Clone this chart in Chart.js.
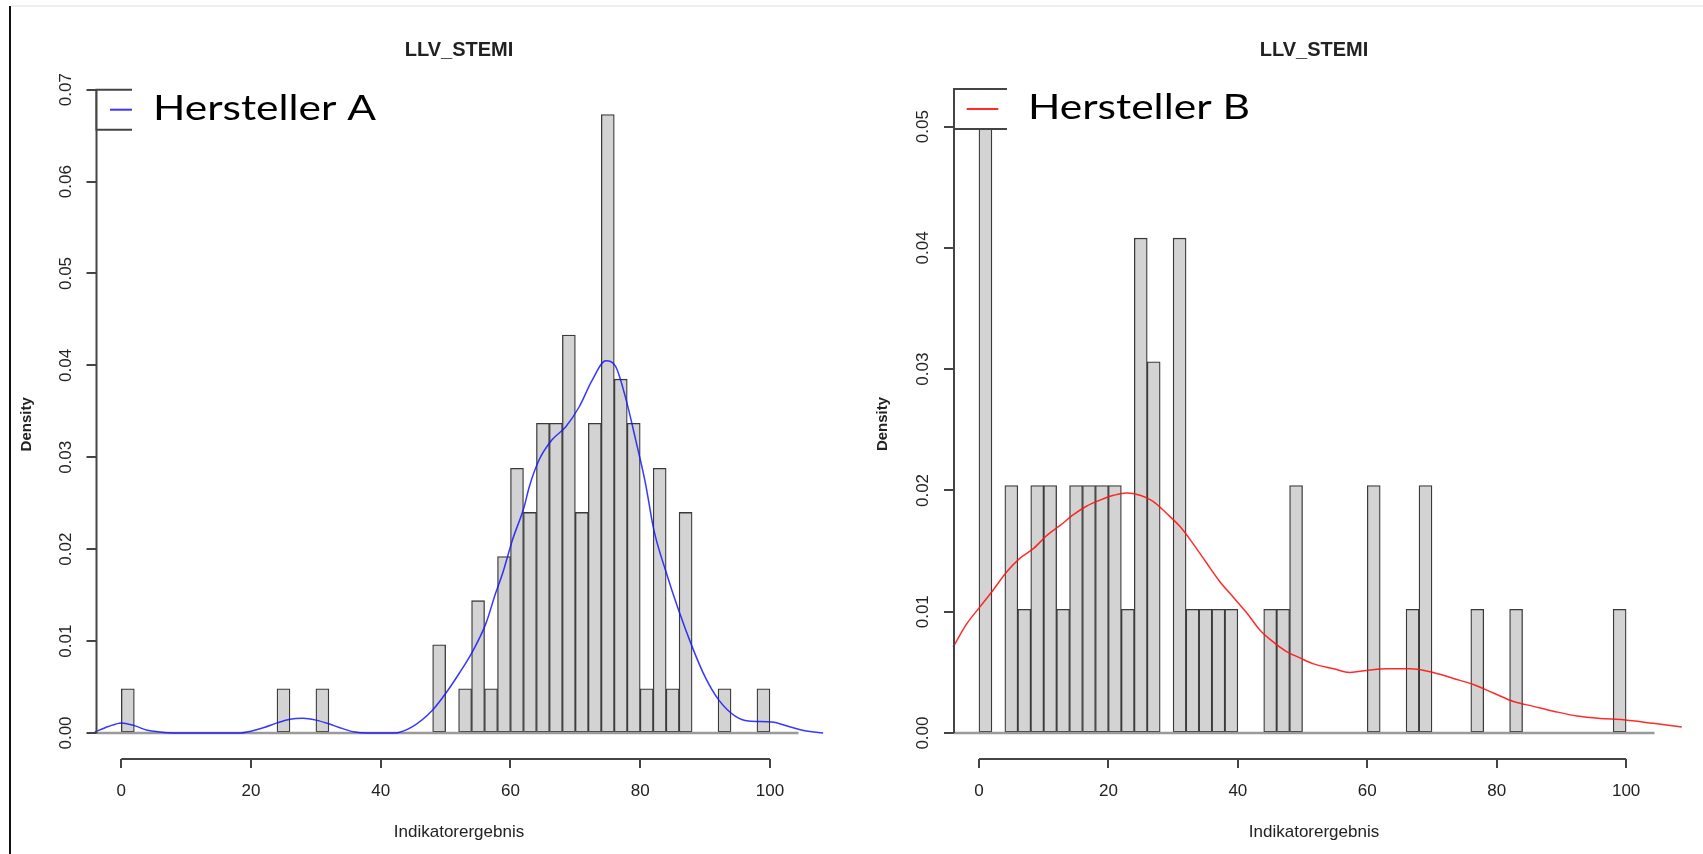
<!DOCTYPE html>
<html>
<head>
<meta charset="utf-8">
<title>LLV_STEMI</title>
<script src="https://cdn.jsdelivr.net/npm/chart.js@4.4.1/dist/chart.umd.min.js"></script>
<style>
  body { margin: 0; background: #fff; width: 1703px; height: 854px; overflow: hidden; position: relative; }
  .topline { position: absolute; left: 11px; top: 5px; width: 1692px; height: 2px; background: #eeeeee; }
  .edge { position: absolute; left: 9px; top: 6px; width: 2px; height: 848px; background: #111; }
  canvas { position: absolute; top: 0; }
  #chartA { left: 0; }
  #chartB { left: 850px; }
</style>
</head>
<body>
<div class="topline"></div>
<div class="edge"></div>
<canvas id="chartA" width="850" height="854"></canvas>
<canvas id="chartB" width="853" height="854"></canvas>
<script>
// Hersteller A - histogram (bin width 2, midpoints) and density values
var binMidsA = [1, 25, 31, 49, 53, 55, 57, 59, 61, 63, 65, 67, 69, 71, 73, 75, 77, 79, 81, 83, 85, 87, 93, 99];
var densityA = [0.0048, 0.0048, 0.0048, 0.0096, 0.0048, 0.0144, 0.0048, 0.0192, 0.0288, 0.0240, 0.0337, 0.0337,
                0.0433, 0.0240, 0.0337, 0.0673, 0.0385, 0.0337, 0.0048, 0.0288, 0.0048, 0.0240, 0.0048, 0.0048];
// kernel density curve A
var kdeXA = [-4.1, -2, 0, 2, 4, 6, 8, 18, 20, 22, 24, 26, 28, 30, 32, 34, 36, 38, 42, 44.9, 48, 50, 52.1, 54.1,
             56.2, 57.7, 58.8, 60.3, 62.1, 62.9, 64.4, 66.4, 68.5, 70.6, 72.6, 74.7, 76.2, 77.7, 79.3, 80.8,
             82.1, 83.9, 85.9, 88, 90, 92.1, 94.7, 96.7, 100.3, 102.9, 105, 108.2];
var kdeYA = [0.0001, 0.0007, 0.0011, 0.0008, 0.0003, 0.0001, 0, 0, 0.0002, 0.0006, 0.0011, 0.0015, 0.0016, 0.0014,
             0.0010, 0.0005, 0.0001, 0, 0, 0.0007, 0.0025, 0.0043, 0.0065, 0.0088, 0.0119, 0.0152, 0.0174, 0.0210,
             0.0246, 0.0268, 0.0297, 0.0319, 0.0333, 0.0355, 0.0384, 0.0405, 0.0399, 0.0366, 0.0319, 0.0272,
             0.0221, 0.0177, 0.0134, 0.0094, 0.0061, 0.0036, 0.0018, 0.0013, 0.0012, 0.0007, 0.0003, 0];

// Hersteller B
var binMidsB = [1, 5, 7, 9, 11, 13, 15, 17, 19, 21, 23, 25, 27, 31, 33, 35, 37, 39, 45, 47, 49, 61, 67, 69, 77, 83, 99];
var densityB = [0.0510, 0.0204, 0.0102, 0.0204, 0.0204, 0.0102, 0.0204, 0.0204, 0.0204, 0.0204, 0.0102, 0.0408,
                0.0306, 0.0408, 0.0102, 0.0102, 0.0102, 0.0102, 0.0102, 0.0102, 0.0204, 0.0204, 0.0102, 0.0204,
                0.0102, 0.0102, 0.0102];
var kdeXB = [-4.0, -1.9, 0.15, 2.2, 4.3, 6.3, 8.4, 10.5, 12.5, 14.6, 16.6, 18.7, 20.8, 22.8, 24.9, 26.9, 29, 31.1,
             33.1, 35.2, 37.2, 39.3, 41.4, 43.4, 45.5, 47.6, 49.6, 51.7, 54.8, 57.3, 60.4, 63, 66.6, 70.2, 73.3,
             76.4, 79.5, 82.6, 85.7, 88.8, 92.4, 96, 99.6, 104.2, 108.6];
var kdeYB = [0.0071, 0.0090, 0.0104, 0.0118, 0.0133, 0.0144, 0.0152, 0.0163, 0.0171, 0.0180, 0.0187, 0.0192, 0.0196,
             0.0198, 0.0196, 0.0191, 0.0181, 0.0170, 0.0156, 0.0140, 0.0125, 0.0112, 0.0099, 0.0085, 0.0075, 0.0067,
             0.0062, 0.0057, 0.0053, 0.0050, 0.0052, 0.0053, 0.0053, 0.0050, 0.0045, 0.0040, 0.0033, 0.0026, 0.0022,
             0.0018, 0.0014, 0.0012, 0.0011, 0.0008, 0.0005];

var xTicks = [0, 20, 40, 60, 80, 100];
var yTicksA = [0, 0.01, 0.02, 0.03, 0.04, 0.05, 0.06, 0.07];
var yTicksB = [0, 0.01, 0.02, 0.03, 0.04, 0.05];
var zeroLineEnd = 104.4;

Chart.defaults.font.family = "'Liberation Sans', Arial, sans-serif";

function toPoints(xs, ys) {
    return xs.map(function (x, i) { return { x: x, y: ys[i] }; });
}

// R style axes: line only between first and last tick, rotated y labels
var rAxes = {
    id: 'rAxes',
    afterDraw: function (chart) {
        var ctx = chart.ctx, a = chart.chartArea, x = chart.scales.x, y = chart.scales.y;
        var yt = y.ticks;
        ctx.save();
        ctx.strokeStyle = '#444';
        ctx.lineWidth = 2;
        ctx.beginPath();
        ctx.moveTo(x.getPixelForValue(xTicks[0]), a.bottom);
        ctx.lineTo(x.getPixelForValue(xTicks[xTicks.length - 1]), a.bottom);
        ctx.moveTo(a.left, y.getPixelForValue(yt[0].value));
        ctx.lineTo(a.left, y.getPixelForValue(yt[yt.length - 1].value));
        ctx.stroke();

        ctx.fillStyle = '#222';
        ctx.font = "17px 'Liberation Sans', Arial";
        ctx.textAlign = 'center';
        ctx.textBaseline = 'middle';
        yt.forEach(function (t) {
            ctx.save();
            ctx.translate(a.left - 30.5, y.getPixelForValue(t.value));
            ctx.rotate(-Math.PI / 2);
            ctx.fillText(t.value.toFixed(2), 0, 0);
            ctx.restore();
        });
        ctx.restore();
    }
};

// legend box in the top left corner, half covered by a big text label
var rLegend = {
    id: 'rLegend',
    afterDraw: function (chart, args, o) {
        var ctx = chart.ctx, a = chart.chartArea, ds = chart.data.datasets[0];
        var top = a.top, h = 40, cut = a.left + o.cut;
        ctx.save();
        ctx.fillStyle = '#fff';
        ctx.fillRect(a.left, top, o.cut, h);
        ctx.strokeStyle = '#444';
        ctx.lineWidth = 2;
        ctx.beginPath();
        ctx.moveTo(cut, top);
        ctx.lineTo(a.left, top);
        ctx.lineTo(a.left, top + h);
        ctx.lineTo(cut, top + h);
        ctx.stroke();
        ctx.strokeStyle = ds.borderColor;
        ctx.beginPath();
        ctx.moveTo(a.left + o.lineFrom, top + h / 2);
        ctx.lineTo(a.left + o.lineTo, top + h / 2);
        ctx.stroke();

        ctx.font = '35px Lato';
        ctx.fillStyle = '#000';
        ctx.textBaseline = 'alphabetic';
        var w = ctx.measureText(ds.label).width;
        ctx.translate(cut + 21, top + 30);
        ctx.scale(o.textWidth / w, 1);
        ctx.fillText(ds.label, 0, 0);
        ctx.restore();
    }
};

function histChart(id, p) {
    return new Chart(document.getElementById(id), {
        type: 'bar',
        data: {
            datasets: [{
                type: 'line',
                label: p.label,
                data: toPoints(p.kdeX, p.kdeY),
                borderColor: p.color,
                borderWidth: 1.5,
                pointRadius: 0,
                cubicInterpolationMode: 'monotone',
                clip: false,
                order: 0
            }, {
                type: 'line',
                label: 'zero',
                data: [{ x: p.xMin, y: 0 }, { x: zeroLineEnd, y: 0 }],
                borderColor: '#9a9a9a',
                borderWidth: 2.5,
                pointRadius: 0,
                order: 1
            }, {
                type: 'bar',
                label: 'Histogram',
                data: toPoints(p.mids, p.dens),
                backgroundColor: '#d3d3d3',
                borderColor: '#3a3a3a',
                borderWidth: 1.3,
                borderSkipped: false,
                barPercentage: 1,
                categoryPercentage: 1,
                grouped: false,
                order: 2
            }]
        },
        options: {
            responsive: false,
            animation: false,
            layout: { padding: { left: 0, right: p.padRight, top: 0, bottom: 0 } },
            plugins: {
                legend: { display: false },
                tooltip: { enabled: false },
                title: {
                    display: true,
                    text: 'LLV_STEMI',
                    fullSize: false,
                    color: '#222',
                    font: { size: 20, weight: 'bold' },
                    padding: { top: 38, bottom: p.titleGap }
                },
                rLegend: p.legend
            },
            scales: {
                x: {
                    type: 'linear',
                    min: p.xMin,
                    max: p.xMax,
                    offset: false,
                    afterBuildTicks: function (s) { s.ticks = xTicks.map(function (v) { return { value: v }; }); },
                    afterFit: function (s) { s.height = 95; },
                    grid: { display: true, drawOnChartArea: false, offset: false, tickLength: 9, color: '#444', lineWidth: 2 },
                    border: { display: false },
                    ticks: { padding: 12.8, color: '#222', font: { size: 17 }, maxRotation: 0, autoSkip: false },
                    title: { display: true, text: 'Indikatorergebnis', color: '#222', font: { size: 17 }, padding: { top: 0, bottom: 11.8 } }
                },
                y: {
                    type: 'linear',
                    min: p.yMin,
                    max: p.yMax,
                    afterBuildTicks: function (s) { s.ticks = p.yTicks.map(function (v) { return { value: v }; }); },
                    afterFit: function (s) { s.width = p.axisLeft; },
                    grid: { display: true, drawOnChartArea: false, tickLength: 10, color: '#444', lineWidth: 2 },
                    border: { display: false },
                    ticks: { display: false },
                    title: { display: true, text: 'Density', color: '#222', font: { size: 15, weight: 'bold' }, padding: { top: p.densPad, bottom: 0 } }
                }
            }
        },
        plugins: [rAxes, rLegend]
    });
}

histChart('chartA', {
    label: 'Hersteller A', color: 'rgba(20,20,255,0.85)',
    mids: binMidsA, dens: densityA, kdeX: kdeXA, kdeY: kdeYA, yTicks: yTicksA,
    xMin: -3.83, xMax: 107.95, yMin: -0.00283, yMax: 0.0700,
    axisLeft: 96.5, padRight: 28.5, titleGap: 27.7, densPad: 17.7,
    legend: { cut: 35.5, lineFrom: 13.5, lineTo: 35.5, textWidth: 223 }
});

histChart('chartB', {
    label: 'Hersteller B', color: 'rgba(255,20,20,0.9)',
    mids: binMidsB, dens: densityB, kdeX: kdeXB, kdeY: kdeYB, yTicks: yTicksB,
    xMin: -3.86, xMax: 107.4, yMin: -0.00214, yMax: 0.0531,
    axisLeft: 104, padRight: 29, titleGap: 27, densPad: 23.5,
    legend: { cut: 53, lineFrom: 12.7, lineTo: 44.3, textWidth: 222 }
});
</script>
</body>
</html>
